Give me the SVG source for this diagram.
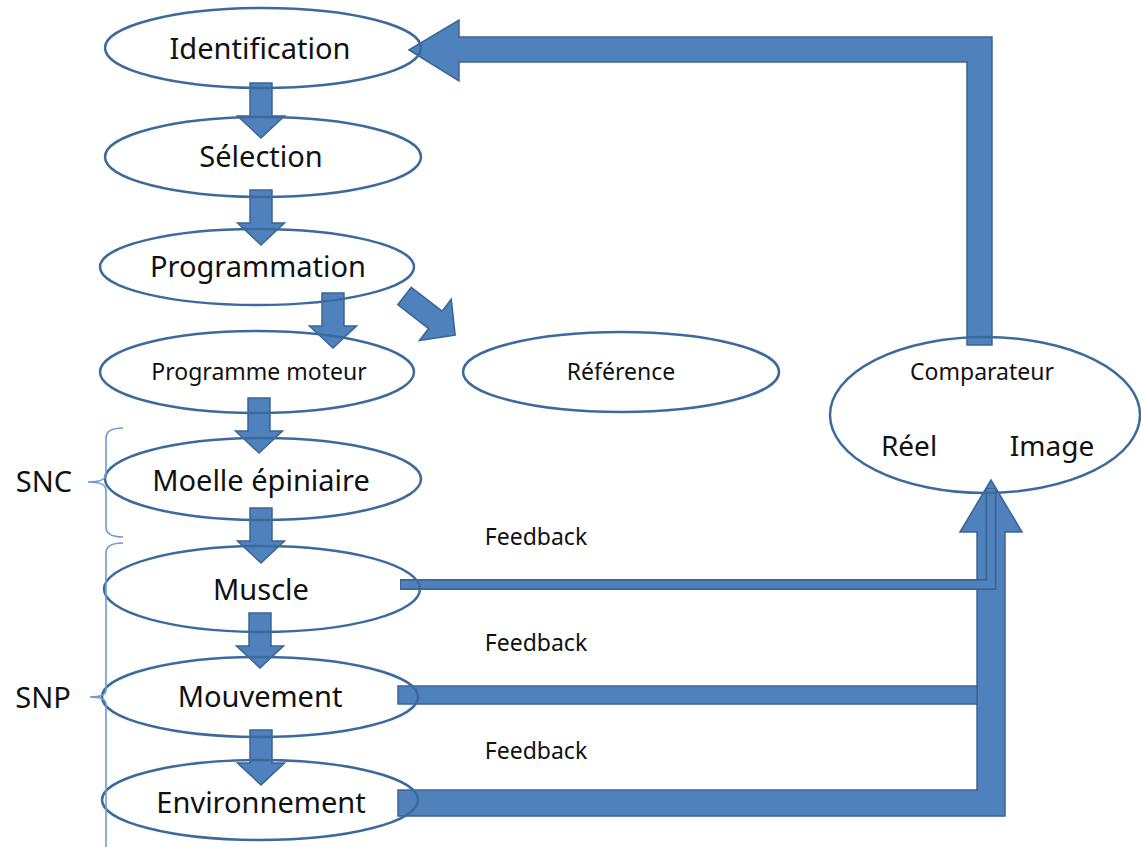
<svg xmlns="http://www.w3.org/2000/svg" xmlns:xlink="http://www.w3.org/1999/xlink" width="1141" height="847" viewBox="0 0 1141 847">
<style>
.node{fill:none;stroke:#3d6a9c;stroke-width:2.5}
.arr{fill:#4f81bd;stroke:#3b6494;stroke-width:1.5;stroke-linejoin:miter}
.big{font-family:"Noto Sans","Open Sans",sans-serif;font-size:29px;fill:#111;text-anchor:middle}
.sm{font-family:"Noto Sans","Open Sans",sans-serif;font-size:23px;fill:#111;text-anchor:middle}
.br{fill:none;stroke:#6f9bd1;stroke-width:1.6}
</style>
<defs>
<path id="down" d="M-11,0 H11 V33 H23.5 L0,55 L-23.5,33 H-11 Z"/>
</defs>
<rect width="1141" height="847" fill="#fff"/>
<g id="connectors">
<polygon class="arr" points="409,50 459,20 459,37 992,37 992,345 967,345 967,62 459,62 459,81"/>
<polygon class="arr" points="991,480 1022,532 1005,532 1005,816 398,816 398,790 977,790 977,532 960,532"/>
<rect class="arr" x="398" y="686" width="579" height="18"/>
<path d="M400,584.5 H991 V488" fill="none" stroke="#3b6494" stroke-width="11"/>
<path d="M401,584.5 H991 V489" fill="none" stroke="#4f81bd" stroke-width="7.5"/>
<use xlink:href="#down" class="arr" transform="translate(261,83)"/>
<use xlink:href="#down" class="arr" transform="translate(261,190)"/>
<use xlink:href="#down" class="arr" transform="translate(333,293)"/>
<use xlink:href="#down" class="arr" transform="translate(259,398)"/>
<use xlink:href="#down" class="arr" transform="translate(261,508)"/>
<use xlink:href="#down" class="arr" transform="translate(260,613)"/>
<use xlink:href="#down" class="arr" transform="translate(261,730)"/>
<path class="arr" transform="translate(404.5,296) rotate(37.7)" d="M0,-11 H39 V-26 L64,0 L39,26 V11 H0 Z"/>
</g>
<g id="identification"><ellipse class="node" cx="263" cy="48" rx="158" ry="40"/><text class="big" x="260" y="59">Identification</text></g>
<g id="selection"><ellipse class="node" cx="263" cy="157" rx="158" ry="40"/><text class="big" x="261" y="167">Sélection</text></g>
<g id="programmation"><ellipse class="node" cx="257" cy="267" rx="157" ry="38"/><text class="big" x="258" y="277">Programmation</text></g>
<g id="programme-moteur"><ellipse class="node" cx="257" cy="372" rx="157" ry="41"/><text class="sm" x="259" y="380">Programme moteur</text></g>
<g id="reference"><ellipse class="node" cx="621" cy="372" rx="158" ry="40"/><text class="sm" x="621" y="380">Référence</text></g>
<g id="moelle"><ellipse class="node" cx="263" cy="479" rx="158" ry="41"/><text class="big" x="261" y="491">Moelle épiniaire</text></g>
<g id="muscle"><ellipse class="node" cx="262" cy="589" rx="158" ry="43"/><text class="big" x="261" y="600">Muscle</text></g>
<g id="mouvement"><ellipse class="node" cx="260" cy="697" rx="158" ry="40"/><text class="big" x="260" y="707">Mouvement</text></g>
<g id="environnement"><ellipse class="node" cx="260" cy="800" rx="158" ry="40"/><text class="big" x="261" y="813">Environnement</text></g>
<g id="comparateur"><ellipse class="node" cx="985" cy="415" rx="155" ry="78"/><text class="sm" x="982" y="380">Comparateur</text><text class="big" x="909" y="456" style="font-size:28px">Réel</text><text class="big" x="1052" y="456" style="font-size:28px">Image</text></g>
<g id="labels">
<text class="sm" x="536" y="545">Feedback</text>
<text class="sm" x="536" y="651">Feedback</text>
<text class="sm" x="536" y="759">Feedback</text>
</g>
<g id="snc"><path class="br" d="M123,428 Q106,428 106,438 V474 Q106,482 88,482 Q106,482 106,490 V527 Q106,537 123,537"/><text class="big" x="44" y="492">SNC</text></g>
<g id="snp"><path class="br" d="M123,543 Q106,543 106,553 V690 Q106,697 90,697 Q106,697 106,704 V847"/><text class="big" x="43" y="708">SNP</text></g>
</svg>
